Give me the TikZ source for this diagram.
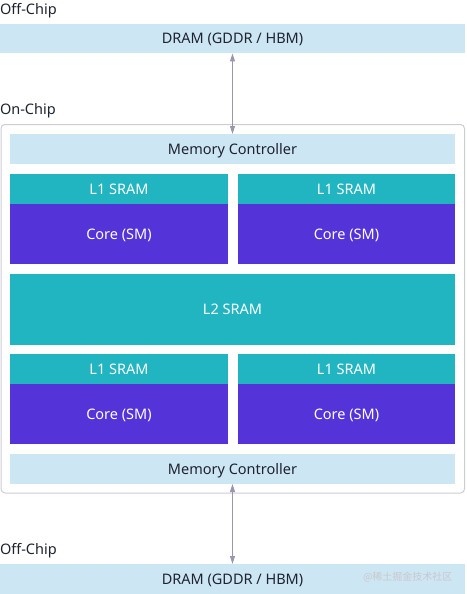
\documentclass[tikz,border=0pt]{standalone}
\usepackage{fontspec}
\setmainfont{Noto Sans}
\newfontfamily\cjk{Noto Sans CJK SC}
\usetikzlibrary{arrows.meta}
\definecolor{lightblue}{RGB}{205,230,243}
\definecolor{tealc}{RGB}{33,181,193}
\definecolor{purplec}{RGB}{84,51,217}
\definecolor{darktext}{RGB}{30,35,48}
\definecolor{arrowc}{RGB}{155,150,172}
\definecolor{chipborder}{RGB}{205,205,214}
\definecolor{wmark}{RGB}{200,200,205}
\begin{document}
\begin{tikzpicture}[x=1pt,y=-1pt,
  every node/.style={inner sep=0pt, outer sep=0pt, font=\fontsize{14.5}{16}\selectfont},
  boxtext/.style={text height=10.5pt, text depth=0pt},
  lightbox/.style={rectangle, boxtext, fill=lightblue, text=darktext, anchor=north west},
  sram/.style={rectangle, boxtext, fill=tealc, text=white, anchor=north west},
  corebox/.style={rectangle, boxtext, fill=purplec, text=white, anchor=north west},
  lbl/.style={text=darktext, anchor=base west},
  chipbox/.style={rectangle, draw=chipborder, line width=1pt, rounded corners=4pt, anchor=north west},
  biarrow/.style={draw=arrowc, line width=1pt, {Triangle[length=8pt,width=5pt]}-{Triangle[length=8pt,width=5pt]}}
]
\useasboundingbox (0,0) rectangle (466,594);
\fill[white] (0,0) rectangle (466,594);

% labels
\node[lbl] (offtop) at (0,14.5) {Off-Chip};
\node[lbl] (onchip) at (0,114.5) {On-Chip};
\node[lbl] (offbot) at (0,554.5) {Off-Chip};

% DRAM
\node[lightbox, minimum width=465pt, minimum height=29.5pt] (dramtop) at (0,24) {DRAM (GDDR / HBM)};
\node[lightbox, minimum width=465pt, minimum height=30pt] (drambot) at (0,564) {DRAM (GDDR / HBM)};

% chip outline
\node[chipbox, minimum width=463.5pt, minimum height=368.5pt] (chip) at (1,124.5) {};

% memory controllers
\node[lightbox, minimum width=445pt, minimum height=29.5pt] (mctop) at (10,134) {Memory Controller};
\node[lightbox, minimum width=445pt, minimum height=30pt] (mcbot) at (10,454) {Memory Controller};

% top SMs
\node[sram, minimum width=218pt, minimum height=30pt] (l1a) at (10,174) {L1 SRAM};
\node[corebox, minimum width=218pt, minimum height=60pt] (corea) at (10,204) {Core (SM)};
\node[sram, minimum width=217pt, minimum height=30pt] (l1b) at (238,174) {L1 SRAM};
\node[corebox, minimum width=217pt, minimum height=60pt] (coreb) at (238,204) {Core (SM)};

% L2
\node[sram, minimum width=445pt, minimum height=70.5pt] (l2) at (10,274) {L2 SRAM};

% bottom SMs
\node[sram, minimum width=218pt, minimum height=30pt] (l1c) at (10,354) {L1 SRAM};
\node[corebox, minimum width=218pt, minimum height=60pt] (corec) at (10,384) {Core (SM)};
\node[sram, minimum width=217pt, minimum height=30pt] (l1d) at (238,354) {L1 SRAM};
\node[corebox, minimum width=217pt, minimum height=60pt] (cored) at (238,384) {Core (SM)};

% arrows
\draw[biarrow] (dramtop.south) -- (mctop.north);
\draw[biarrow] (mcbot.south) -- (drambot.north);

% watermark
\node[text=wmark, anchor=base west, font=\cjk\fontsize{10}{12}\selectfont] (wm) at (363,580) {@稀土掘金技术社区};
\end{tikzpicture}
\end{document}
